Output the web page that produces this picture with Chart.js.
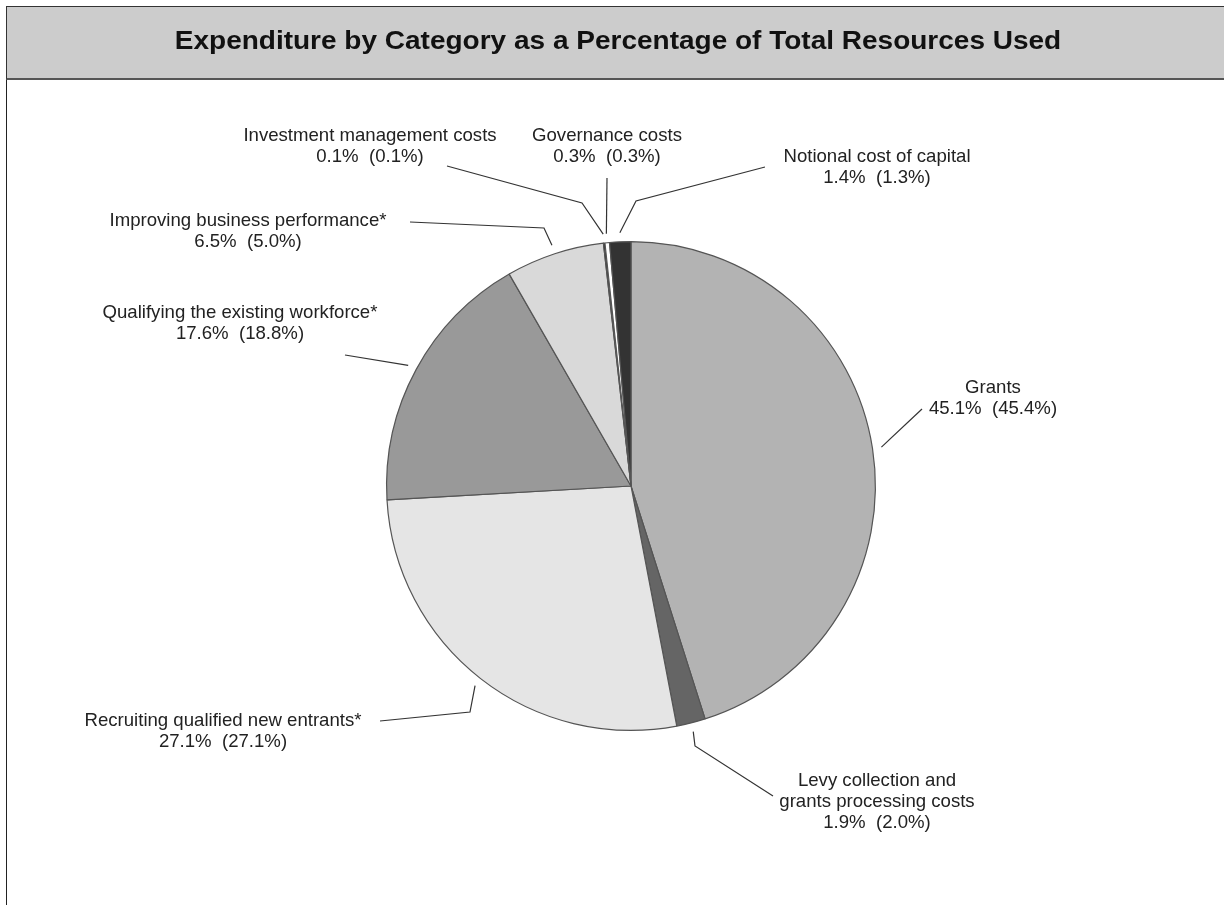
<!DOCTYPE html>
<html>
<head>
<meta charset="utf-8">
<script src="https://cdn.jsdelivr.net/npm/chart.js@4.4.1/dist/chart.umd.min.js"></script>
<style>
	body { margin: 0; background: #fff; font-family: "Liberation Sans", Arial, sans-serif; }
	#frame { position: absolute; left: 6px; top: 6px; width: 1300px; height: 1000px; border-left: 1px solid #222; border-top: 1px solid #222; }
	#title { position: absolute; left: 6px; top: 6px; width: 1300px; height: 71px; background: #cccccc; border: 1px solid #333; border-right: none; border-bottom: 2px solid #555; }
	#title span { position: absolute; left: 0; width: 1222px; top: -2px; line-height: 71px; text-align: center; font-weight: bold; font-size: 25px; color: #111; transform: scaleX(1.12); transform-origin: 611px 50%; }
	#wrap { position: absolute; left: 0; top: 0; width: 1224px; height: 905px; }
</style>
</head>
<body>
<div id="frame"></div>
<div id="wrap"><canvas id="chart-pie"></canvas></div>
<div id="title"><span>Expenditure by Category as a Percentage of Total Resources Used</span></div>
<script>
const categories = [
	['Grants'],
	['Levy collection and', 'grants processing costs'],
	['Recruiting qualified new entrants*'],
	['Qualifying the existing workforce*'],
	['Improving business performance*'],
	['Investment management costs'],
	['Governance costs'],
	['Notional cost of capital']
];
const currentPct = [45.1, 1.9, 27.1, 17.6, 6.5, 0.1, 0.3, 1.4];
const previousPct = [45.4, 2.0, 27.1, 18.8, 5.0, 0.1, 0.3, 1.3];
const sliceColours = ['#b3b3b3', '#656565', '#e5e5e5', '#999999', '#d9d9d9', '#1e1e1e', '#ffffff', '#333333'];

// where each label sits, and where its leader line bends (layout only)
const labelLayout = [
	{ x: 993, y: 388, start: [922, 409], elbow: null },
	{ x: 877, y: 781, start: [773, 796], elbow: [695, 746] },
	{ x: 223, y: 721, start: [380, 721], elbow: [470, 712] },
	{ x: 240, y: 313, start: [345, 355], elbow: null },
	{ x: 248, y: 221, start: [410, 222], elbow: [544, 228] },
	{ x: 370, y: 136, start: [447, 166], elbow: [582, 203] },
	{ x: 607, y: 136, start: [607, 178], elbow: null },
	{ x: 877, y: 157, start: [765, 167], elbow: [636, 201] }
];

const leaderLabels = {
	id: 'leaderLabels',
	afterDraw(chart) {
		const ctx = chart.ctx;
		const arcs = chart.getDatasetMeta(0).data;
		ctx.save();
		ctx.font = '18.6px "Liberation Sans", Arial, sans-serif';
		ctx.fillStyle = '#222';
		ctx.textAlign = 'center';
		ctx.textBaseline = 'middle';
		ctx.strokeStyle = '#333';
		ctx.lineWidth = 1.2;
		arcs.forEach((arc, i) => {
			const lay = labelLayout[i];
			const mid = (arc.startAngle + arc.endAngle) / 2;
			const r = arc.outerRadius + 9;
			const ex = arc.x + Math.cos(mid) * r;
			const ey = arc.y + Math.sin(mid) * r;

			ctx.beginPath();
			ctx.moveTo(lay.start[0], lay.start[1]);
			if (lay.elbow) ctx.lineTo(lay.elbow[0], lay.elbow[1]);
			ctx.lineTo(ex, ey);
			ctx.stroke();

			const lines = categories[i].concat([currentPct[i].toFixed(1) + '%  (' + previousPct[i].toFixed(1) + '%)']);
			lines.forEach((t, j) => {
				ctx.fillText(t, lay.x, lay.y + j * 21);
			});
		});
		ctx.restore();
	}
};

let pieCtx = document.getElementById('chart-pie');
let pieChart = new Chart(pieCtx, {
	type: 'pie',
	data: {
		labels: categories.map(c => c.join(' ')),
		datasets: [{
			data: currentPct,
			backgroundColor: sliceColours,
			borderColor: '#555',
			borderWidth: 1.2
		}]
	},
	options: {
		responsive: true,
		maintainAspectRatio: false,
		animation: false,
		layout: {
			padding: { left: 386, right: 348, top: 241, bottom: 174 }
		},
		plugins: {
			legend: { display: false },
			tooltip: { enabled: false }
		}
	},
	plugins: [leaderLabels]
});
</script>
</body>
</html>
